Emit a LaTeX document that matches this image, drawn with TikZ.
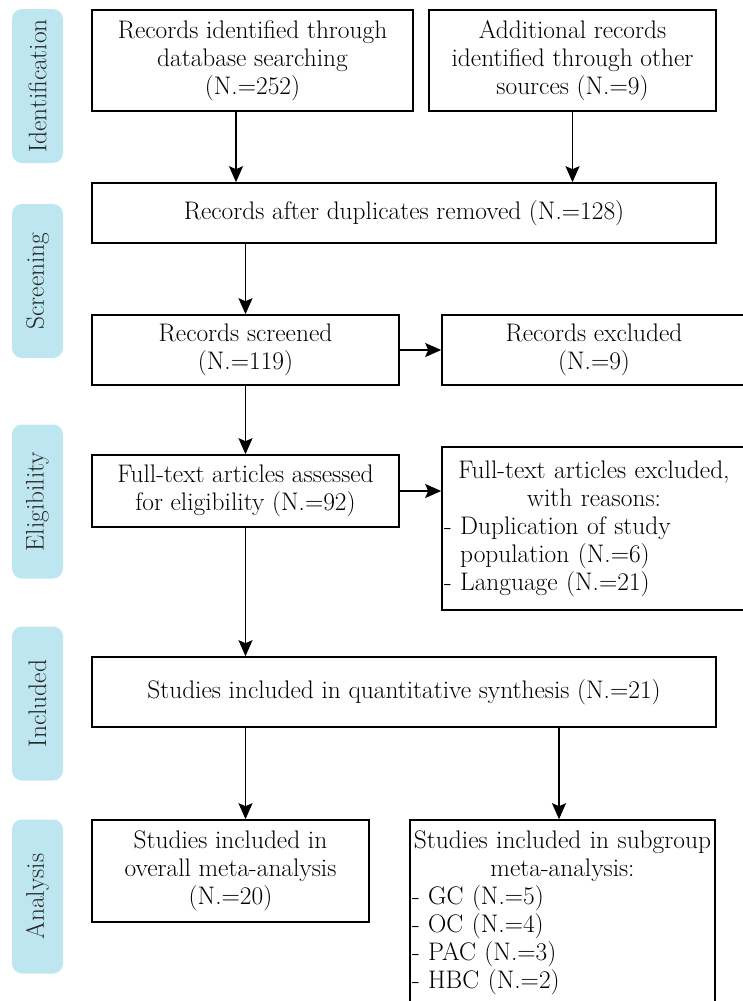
\documentclass[tikz,border=0pt]{standalone}
\usepackage{fontspec}
\usetikzlibrary{arrows.meta}
\definecolor{tagblue}{RGB}{190,230,240}

\begin{document}
\begin{tikzpicture}[x=1pt,y=-1pt,
  font=\rmfamily\fontsize{25.4}{28}\selectfont,
  box/.style={draw,line width=1.6pt,align=center,inner sep=2pt},
  tag/.style={fill=tagblue,rounded corners=10pt,rotate=90,minimum width=154pt,minimum height=51pt,text=black!85},
  arr/.style={line width=1.5pt,-{Stealth[length=16pt,width=14pt,inset=3pt]}}]
\useasboundingbox (0,0) rectangle (743,1001);
\clip (0,0) rectangle (743,1001);
% phase labels
\node[tag] (tid) at (37.5,86) {Identification};
\node[tag] (tsc) at (37.5,281) {Screening};
\node[tag] (tel) at (37.5,501.5) {Eligibility};
\node[tag] (tin) at (37.5,703.5) {Included};
\node[tag] (tan) at (37.5,896.5) {Analysis};
% boxes
\node[box,minimum width=321pt,minimum height=101pt] (db) at (252.5,60.5) {Records identified through\\database searching\\(N.=252)};
\node[box,minimum width=287pt,minimum height=101pt] (other) at (572.5,60.5) {Additional records\\identified through other\\sources (N.=9)};
\node[box,minimum width=624pt,minimum height=60pt] (dup) at (404,213) {Records after duplicates removed (N.=128)};
\node[box,minimum width=307pt,minimum height=70pt] (screened) at (245.5,350) {Records screened\\(N.=119)};
\node[box,minimum width=304pt,minimum height=70pt] (excl) at (594,350) {Records excluded\\(N.=9)};
\node[box,minimum width=307pt,minimum height=72pt] (full) at (245.5,491) {Full-text articles assessed\\for eligibility (N.=92)};
\node[box,text width=300pt,minimum height=163pt] (excl2) at (594,528.5) {\centering Full-text articles excluded,\\with reasons:\par
  \raggedright - Duplication of study\\\phantom{- }population (N.=6)\\- Language (N.=21)\par};
\node[box,minimum width=624pt,minimum height=70pt] (incl) at (404,692) {Studies included in quantitative synthesis (N.=21)};
\node[box,minimum width=277pt,minimum height=102pt] (overall) at (230.5,871) {Studies included in\\overall meta-analysis\\(N.=20)};
\node[box,text width=301pt,minimum height=186pt] (sub) at (562.5,913) {\centering Studies included in subgroup\\meta-analysis:\par
  \raggedright - GC (N.=5)\\- OC (N.=4)\\- PAC (N.=3)\\- HBC (N.=2)\par};
% connectors
\draw[arr] ([xshift=-16.5pt]db.south) -- ([xshift=-16.5pt]db.south |- dup.north);
\draw[arr] (other.south) -- (other.south |- dup.north);
\draw[arr] (screened.north |- dup.south) -- (screened.north);
\draw[arr] (screened.east) -- (excl.west);
\draw[arr] (screened.south) -- (full.north);
\draw[arr] (full.east) -- (full.east -| excl2.west);
\draw[arr] (full.south) -- (full.south |- incl.north);
\draw[arr] (full.south |- incl.south) -- (full.south |- overall.north);
\draw[arr] ([xshift=-3.5pt]sub.north |- incl.south) -- ([xshift=-3.5pt]sub.north);
\end{tikzpicture}
\end{document}
